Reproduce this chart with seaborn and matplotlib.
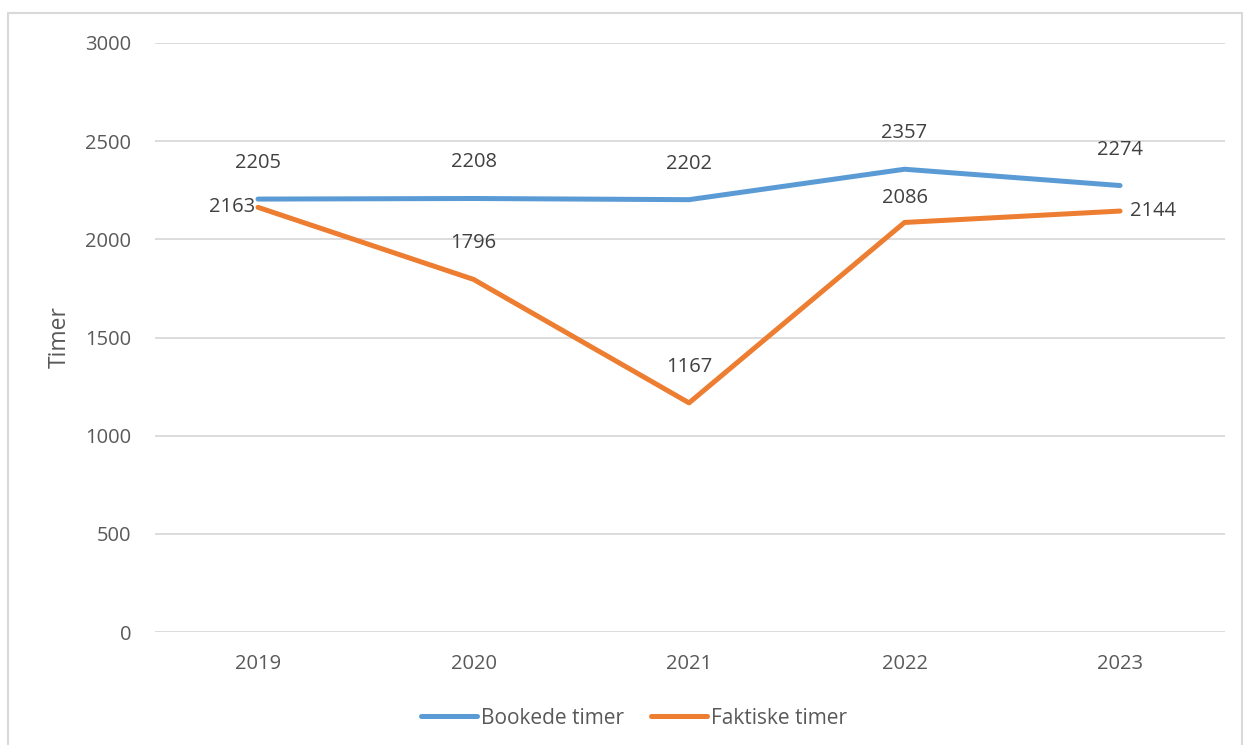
import pandas as pd
import matplotlib.pyplot as plt
import seaborn as sns
from matplotlib.patches import Rectangle

# data
years = ["2019", "2020", "2021", "2022", "2023"]
bookede = [2205, 2208, 2202, 2357, 2274]
faktiske = [2163, 1796, 1167, 2086, 2144]
series_names = ["Bookede timer", "Faktiske timer"]

df = pd.DataFrame({
    "År": years * 2,
    "Timer": bookede + faktiske,
    "Serie": [series_names[0]] * len(years) + [series_names[1]] * len(years),
})

sns.set_theme(style="white")
plt.rcParams['font.family'] = ['Open Sans', 'DejaVu Sans']
txt_col = "#595959"
palette = {"Bookede timer": "#5B9BD5", "Faktiske timer": "#ED7D31"}

fig = plt.figure(figsize=(12.46, 7.45), dpi=100)
ax = fig.add_axes([155 / 1246, 113 / 745, 1070 / 1246, 589 / 745])

sns.lineplot(data=df, x="År", y="Timer", hue="Serie", palette=palette,
             linewidth=3.6, ax=ax, sort=False, legend=False,
             solid_capstyle="round")

ax.set_xlim(-0.478, 4.487)
ax.set_ylim(0, 3000)
ax.set_yticks(range(0, 3001, 500))
ax.grid(axis="y", color="#D9D9D9", linewidth=1.3)
ax.set_axisbelow(True)
for s in ax.spines.values():
    s.set_visible(False)
ax.tick_params(axis="both", length=0, labelsize=14.5, labelcolor=txt_col)
ax.tick_params(axis="y", pad=17)
ax.tick_params(axis="x", pad=16)
ax.set_xlabel("")
ax.set_ylabel("Timer", fontsize=16.5, color=txt_col, labelpad=10)

# data labels
lab_kw = dict(fontsize=14.5, color="#404040", textcoords="offset pixels")
for i, v in enumerate(bookede):
    ax.annotate(str(v), (i, v), xytext=(0, 36), ha="center", va="center", **lab_kw)
orange_pos = [(-3, 0, "right"), (0, 36, "center"), (0, 36, "center"),
              (0, 24, "center"), (10, 0, "left")]
for i, v in enumerate(faktiske):
    dx, dy, ha = orange_pos[i]
    ax.annotate(str(v), (i, v), xytext=(dx, dy), ha=ha, va="center", **lab_kw)

# legend
handles = [plt.Line2D([], [], color=palette[n], linewidth=3.6, solid_capstyle="round")
           for n in series_names]
fig.legend(handles, series_names, loc="center", bbox_to_anchor=(634 / 1246, 1 - 718 / 745),
           ncol=2, frameon=False, fontsize=15, labelcolor=txt_col,
           handlelength=2.7, handletextpad=0.2, columnspacing=1.25)

# chart border
fig.patches.append(Rectangle((8 / 1246, -0.02), 1234 / 1246, 1 - 13 / 745 + 0.02,
                             transform=fig.transFigure, fill=False,
                             edgecolor="#D9D9D9", linewidth=1.5))

fig.savefig("out.png", dpi=100)
